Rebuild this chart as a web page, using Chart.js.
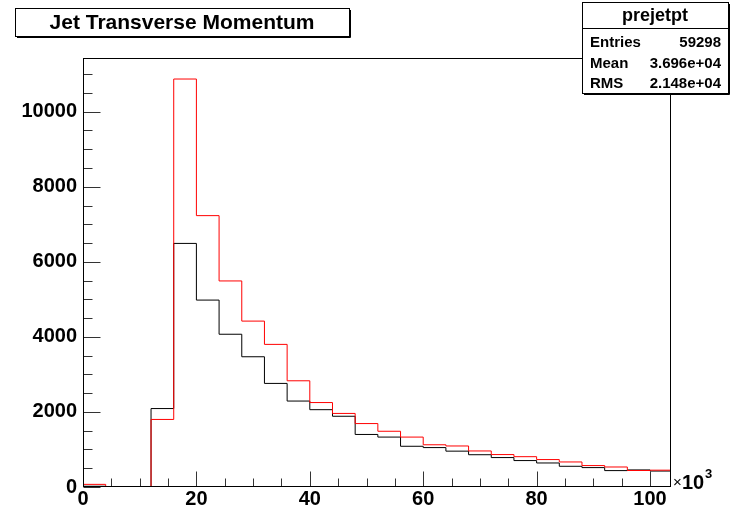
<!DOCTYPE html>
<html>
<head>
<meta charset="utf-8">
<script src="https://cdn.jsdelivr.net/npm/chart.js@4.4.1/dist/chart.umd.min.js"></script>
<style>
  html, body { margin: 0; padding: 0; background: #fff; }
  #wrap { position: relative; width: 731px; height: 508px; }
</style>
</head>
<body>
<div id="wrap"><canvas id="c" width="731" height="508"></canvas></div>
<script>
// Histogramm-Daten (Bin-Untergrenzen in 10^3, Breite 4)
const binLow = [0, 4, 8, 12, 16, 20, 24, 28, 32, 36, 40, 44, 48, 52, 56, 60, 64, 68, 72, 76, 80, 84, 88, 92, 96, 100];
const binUpper = 104;
const blackCounts = [20, 0, 0, 2090, 6490, 4980, 4070, 3470, 2760, 2290, 2060, 1885, 1400, 1330, 1085, 1050, 955, 860, 784, 704, 640, 552, 517, 437, 455, 425];
const redCounts   = [70, 0, 0, 1800, 10870, 7230, 5490, 4420, 3800, 2830, 2250, 1960, 1690, 1485, 1330, 1125, 1093, 960, 864, 808, 731, 667, 571, 533, 440, 448];

// Achsen
const xMax = 103.7, xMinor = 5;
const xTickVals = [0, 20, 40, 60, 80, 100];
const yMax = 11430, yMinor = 500;
const yTickVals = [0, 2000, 4000, 6000, 8000, 10000];

// Texte
const titleText = 'Jet Transverse Momentum';
const statsName = 'prejetpt';
const statsRows = [['Entries', '59298'], ['Mean', '3.696e+04'], ['RMS', '2.148e+04']];

const FONT = '"Liberation Sans", Arial, Helvetica, sans-serif';

function toPoints(vals) {
  const pts = binLow.map((x, i) => ({ x: x, y: vals[i] }));
  pts.push({ x: binUpper, y: vals[vals.length - 1] });
  return pts;
}

// ROOT-artige Dekoration: Rahmen, Ticks nach innen, Titel- und Statistikbox
const rootDecor = {
  id: 'rootDecor',
  afterDraw(chart) {
    const ctx = chart.ctx;
    const a = chart.chartArea;
    const xs = chart.scales.x, ys = chart.scales.y;
    const L = Math.round(a.left) + 0.5, R = Math.round(a.right) - 0.5;
    const T = Math.round(a.top) + 0.5, B = Math.round(a.bottom) - 0.5;
    ctx.save();

    // Ticks
    ctx.strokeStyle = '#333';
    ctx.lineWidth = 1;
    ctx.beginPath();
    for (let v = 0; v <= xMax; v += xMinor) {
      const px = Math.round(xs.getPixelForValue(v)) + 0.5;
      const len = xTickVals.includes(v) ? 15 : 8;
      ctx.moveTo(px, B); ctx.lineTo(px, B - len);
    }
    for (let v = 0; v <= yMax; v += yMinor) {
      const py = Math.round(ys.getPixelForValue(v)) + 0.5;
      const len = v % 2000 === 0 ? 17 : 9;
      ctx.moveTo(L, py); ctx.lineTo(L + len, py);
    }
    ctx.stroke();

    // Rahmen
    ctx.strokeStyle = '#000';
    ctx.strokeRect(L, T, R - L, B - T);

    // x10^3
    ctx.fillStyle = '#000';
    ctx.textBaseline = 'alphabetic';
    ctx.textAlign = 'left';
    ctx.font = '15px ' + FONT;
    ctx.fillText('\u00d7', 673, 487);
    ctx.font = 'bold 20px ' + FONT;
    ctx.fillText('10', 682, 489);
    ctx.font = 'bold 13px ' + FONT;
    ctx.fillText('3', 705, 478);

    // Titelbox
    const tb = { x: 15, y: 8, w: 334, h: 28 };
    ctx.fillStyle = '#fff';
    ctx.fillRect(tb.x, tb.y, tb.w, tb.h);
    ctx.strokeStyle = '#000';
    ctx.strokeRect(tb.x + 0.5, tb.y + 0.5, tb.w, tb.h);
    ctx.beginPath();
    ctx.moveTo(tb.x + tb.w + 1.5, tb.y + 2); ctx.lineTo(tb.x + tb.w + 1.5, tb.y + tb.h + 1.5);
    ctx.lineTo(tb.x + 2, tb.y + tb.h + 1.5);
    ctx.stroke();
    ctx.fillStyle = '#000';
    ctx.font = 'bold 21px ' + FONT;
    ctx.textAlign = 'center';
    ctx.textBaseline = 'middle';
    ctx.fillText(titleText, tb.x + tb.w / 2, tb.y + tb.h / 2 + 1);

    // Statistikbox
    const sb = { x: 582, y: 2, w: 146, h: 91 };
    ctx.fillStyle = '#fff';
    ctx.fillRect(sb.x, sb.y, sb.w + 2, sb.h + 2);
    ctx.strokeStyle = '#000';
    ctx.strokeRect(sb.x + 0.5, sb.y + 0.5, sb.w, sb.h);
    ctx.beginPath();
    ctx.moveTo(sb.x + sb.w + 1.5, sb.y + 2); ctx.lineTo(sb.x + sb.w + 1.5, sb.y + sb.h + 1.5);
    ctx.lineTo(sb.x + 2, sb.y + sb.h + 1.5);
    ctx.moveTo(sb.x, sb.y + 26.5); ctx.lineTo(sb.x + sb.w, sb.y + 26.5);
    ctx.stroke();
    ctx.fillStyle = '#000';
    ctx.font = 'bold 18px ' + FONT;
    ctx.textAlign = 'center';
    ctx.fillText(statsName, sb.x + sb.w / 2, sb.y + 14);
    ctx.font = 'bold 15px ' + FONT;
    statsRows.forEach((r, i) => {
      const yy = sb.y + 41 + i * 20.5;
      ctx.textAlign = 'left';
      ctx.fillText(r[0], sb.x + 8, yy);
      ctx.textAlign = 'right';
      ctx.fillText(r[1], sb.x + sb.w - 7, yy);
    });

    ctx.restore();
  }
};

const tickFont = { family: FONT, weight: 'bold', size: 20 };

new Chart(document.getElementById('c'), {
  type: 'line',
  data: {
    datasets: [
      { label: 'red', data: toPoints(redCounts), borderColor: '#ff0000', borderWidth: 1,
        stepped: 'before', pointRadius: 0, fill: false },
      { label: 'black', data: toPoints(blackCounts), borderColor: '#000000', borderWidth: 1,
        stepped: 'before', pointRadius: 0, fill: false }
    ]
  },
  options: {
    responsive: false,
    animation: false,
    devicePixelRatio: 1,
    layout: { padding: { top: 58, right: 60, left: 0, bottom: 0 } },
    plugins: { legend: { display: false }, tooltip: { enabled: false }, title: { display: false } },
    scales: {
      x: {
        type: 'linear', min: 0, max: xMax,
        afterFit(s) { s.height = 21; },
        afterBuildTicks(s) { s.ticks = xTickVals.map(v => ({ value: v })); },
        grid: { display: false, drawTicks: false },
        border: { display: false },
        ticks: { font: tickFont, color: '#000', padding: 0, maxRotation: 0, autoSkip: false,
                 callback: v => String(v) }
      },
      y: {
        min: 0, max: yMax,
        afterFit(s) { s.width = 83; },
        afterBuildTicks(s) { s.ticks = yTickVals.map(v => ({ value: v })); },
        grid: { display: false, drawTicks: false },
        border: { display: false },
        ticks: { font: tickFont, color: '#000', padding: 6, autoSkip: false,
                 callback: v => String(v) }
      }
    }
  },
  plugins: [rootDecor]
});
</script>
</body>
</html>
